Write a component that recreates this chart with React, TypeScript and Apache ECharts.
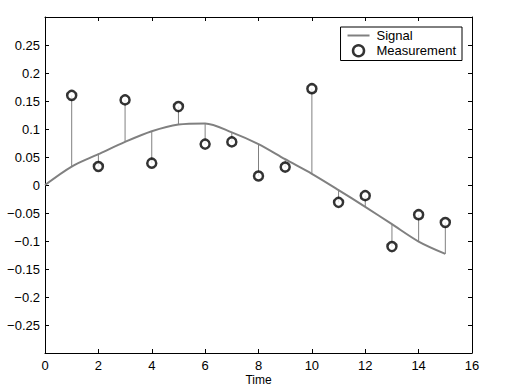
import React, { useEffect, useRef } from "react";
import * as echarts from "echarts";

const times = [0, 1, 2, 3, 4, 5, 6, 7, 8, 9, 10, 11, 12, 13, 14, 15];
const signal = [0, 0.033, 0.055, 0.077, 0.096, 0.108, 0.11, 0.094, 0.073, 0.046, 0.02, -0.009, -0.039, -0.07, -0.101, -0.123];
const measTimes = [1, 2, 3, 4, 5, 6, 7, 8, 9, 10, 11, 12, 13, 14, 15];
const measurement = [0.16, 0.033, 0.152, 0.039, 0.14, 0.073, 0.077, 0.016, 0.032, 0.172, -0.031, -0.019, -0.11, -0.053, -0.067];
const yTicks = [-0.25, -0.2, -0.15, -0.1, -0.05, 0, 0.05, 0.1, 0.15, 0.2, 0.25];

export default function App() {
  const ref = useRef<HTMLDivElement>(null);
  useEffect(() => {
    if (!ref.current) return;
    const chart = echarts.init(ref.current, null, { renderer: "svg" });
    const font = "Liberation Sans, Arial, sans-serif";
    const axisCommon = {
      axisLine: { show: true, onZero: false, lineStyle: { color: "#000", width: 1 } },
      axisTick: { show: true, inside: true, length: 4, lineStyle: { color: "#000" } },
      splitLine: { show: false },
    };
    const fmtY = (v: number) => {
      const r = Math.round(v * 100) / 100;
      if (!yTicks.some((t) => Math.abs(t - r) < 1e-9)) return "";
      return r < 0 ? "\u2212" + String(Math.abs(r)) : String(r);
    };
    const stemData = measTimes.map((t, i) => [t, signal[times.indexOf(t)], measurement[i]]);
    chart.setOption({
      animation: false,
      backgroundColor: "#fff",
      grid: { left: 45, right: 33, top: 17, bottom: 33, containLabel: false, outerBoundsMode: "none" },
      legend: {
        right: 43,
        top: 27,
        orient: "vertical",
        itemGap: 2,
        padding: [2, 6, 3, 7],
        borderColor: "#000",
        borderWidth: 1,
        backgroundColor: "#fff",
        itemWidth: 22,
        itemHeight: 11,
        textStyle: { fontFamily: font, fontSize: 13, color: "#000", padding: [0, 0, 0, 2] },
        data: [
          { name: "Signal", icon: "path://M0,5 L22,5 L22,7 L0,7 Z", itemStyle: { color: "#808080" } },
          { name: "Measurement", icon: "circle", itemStyle: { borderWidth: 2.5 } },
        ],
      },
      xAxis: [
        {
          type: "value",
          min: 0,
          max: 16,
          interval: 2,
          position: "bottom",
          name: "Time",
          nameLocation: "middle",
          nameGap: 21,
          nameMoveOverlap: false,
          nameTextStyle: { fontFamily: font, fontSize: 12, lineHeight: 11, color: "#000", verticalAlign: "top" },
          axisLabel: { fontFamily: font, fontSize: 13, lineHeight: 13, color: "#000", margin: 6 },
          ...axisCommon,
        },
        {
          type: "value",
          min: 0,
          max: 16,
          interval: 2,
          position: "top",
          axisLabel: { show: false },
          ...axisCommon,
        },
      ],
      yAxis: [
        {
          type: "value",
          min: -0.3,
          max: 0.3,
          interval: 0.05,
          position: "left",
          axisLabel: { fontFamily: font, fontSize: 13, color: "#000", margin: 5, formatter: fmtY },
          ...axisCommon,
        },
        {
          type: "value",
          min: -0.3,
          max: 0.3,
          interval: 0.05,
          position: "right",
          axisLabel: { show: false },
          ...axisCommon,
        },
      ],
      series: [
        {
          type: "custom",
          name: "stems",
          silent: true,
          renderItem: (params: any, api: any) => {
            const p1 = api.coord([api.value(0), api.value(1)]);
            const p2 = api.coord([api.value(0), api.value(2)]);
            return {
              type: "line",
              shape: { x1: p1[0], y1: p1[1], x2: p2[0], y2: p2[1] },
              style: { stroke: "#808080", lineWidth: 1 },
            };
          },
          data: stemData,
          z: 1,
        },
        {
          type: "line",
          name: "Signal",
          data: times.map((t, i) => [t, signal[i]]),
          showSymbol: false,
          smooth: 0.3,
          lineStyle: { color: "#808080", width: 2 },
          itemStyle: { color: "#808080" },
          z: 2,
        },
        {
          type: "scatter",
          name: "Measurement",
          data: measTimes.map((t, i) => [t, measurement[i]]),
          symbol: "circle",
          symbolSize: 9,
          itemStyle: { color: "#fff", borderColor: "#000", borderWidth: 2.5 },
          z: 3,
        },
      ],
    });
    return () => chart.dispose();
  }, []);
  return <div ref={ref} style={{ position: "fixed", left: 0, top: 0, width: 505, height: 386 }} />;
}
